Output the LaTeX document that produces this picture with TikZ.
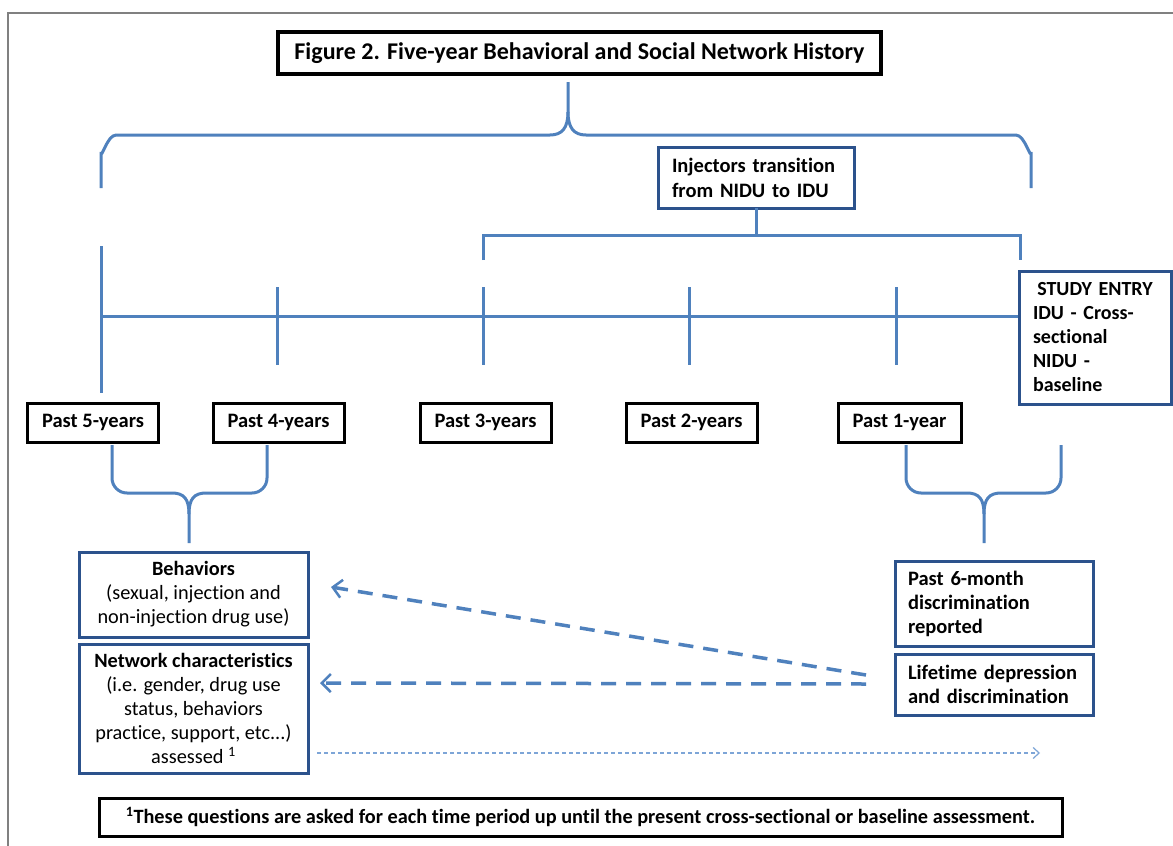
\documentclass[tikz,border=0pt]{standalone}
\usepackage{fontspec}
\setmainfont[Ligatures={NoCommon,NoRare}]{Carlito}
\usetikzlibrary{arrows.meta}
\definecolor{lineblue}{RGB}{79,129,189}
\definecolor{boxblue}{RGB}{44,82,140}
\definecolor{dotblue}{RGB}{125,165,215}
\definecolor{framegray}{RGB}{128,128,128}
\begin{document}
\begin{tikzpicture}[x=1pt,y=-1pt,
  blkbox/.style={draw=black,line width=3pt,fill=white,inner sep=0pt,align=center,font=\fontsize{20.5}{24}\selectfont\bfseries},
  bluebox/.style={draw=boxblue,line width=3pt,fill=white,inner sep=0pt,font=\fontsize{20.3}{24}\selectfont},
  bline/.style={draw=lineblue,line width=3pt},
  dasharrow/.style={draw=lineblue,line width=3.5pt,dash pattern=on 15pt off 10pt,-{Straight Barb[length=9pt,width=18pt,line width=2.5pt]}},
  dotarrow/.style={draw=dotblue,line width=1.3pt,dash pattern=on 4pt off 3pt,-{Straight Barb[length=6pt,width=11pt,line width=1.2pt]}}
]
\useasboundingbox (0,0) rectangle (1173,846);
\fill[white] (0,0) rectangle (1173,846);
% outer frame
\draw[framegray,line width=1.2pt] (8,846) -- (8,13) -- (1173,13);

% title
\node[blkbox,line width=3.5pt,minimum width=603pt,minimum height=42pt,font=\fontsize{24}{28}\selectfont\bfseries] (title) at (579.5,53) {Figure 2. Five-year Behavioral and Social Network History};

% top brace
\draw[bline] (101,188) -- (101,152) to[out=-90,in=180] (116,135) -- (550,135)
  .. controls (562,135) and (568,128) .. (568,112) -- (568,82);
\draw[bline] (568,112) .. controls (568,128) and (574,135) .. (586,135) -- (1016,135)
  to[out=0,in=-90] (1031,152) -- (1031,188);

% injectors box
\node[bluebox,minimum width=196pt,minimum height=61pt,text width=168pt,align=left,font=\fontsize{20.5}{25}\selectfont\bfseries] (inj) at (756,177.5) {Injectors transition\\from NIDU to IDU};

% bracket under injectors
\coordinate (brL) at (483,235);
\coordinate (brR) at (1020,235);
\draw[bline] (inj.south |- 0,208) -- (inj.south |- brL);
\draw[bline] ([yshift=-25pt]brL) -- (brL) -- (brR) -- ([yshift=-25pt]brR);

% study entry box
\node[bluebox,minimum width=152pt,minimum height=133pt,text width=124pt,align=left,font=\fontsize{20}{24}\selectfont\bfseries] (study) at (1095,337.5) {\makebox[124pt][c]{STUDY ENTRY}\\IDU - Cross-\\sectional\\NIDU -\\baseline};

% timeline
\coordinate (t0) at (101,316);
\draw[bline] (t0) -- (study.west |- t0);
\draw[bline] (101,246) -- (101,393);
\foreach \x in {277,483,689,896}{\draw[bline] (\x,287) -- (\x,365);}

% period boxes
\node[blkbox,minimum width=131pt,minimum height=39pt] (p5) at (93,422.5) {Past 5-years};
\node[blkbox,minimum width=131pt,minimum height=39pt] (p4) at (278.5,422.5) {Past 4-years};
\node[blkbox,minimum width=131pt,minimum height=39pt] (p3) at (485.5,422.5) {Past 3-years};
\node[blkbox,minimum width=131pt,minimum height=39pt] (p2) at (691.5,422.5) {Past 2-years};
\node[blkbox,minimum width=123pt,minimum height=39pt] (p1) at (899.5,422.5) {Past 1-year};

% lower left brace
\draw[bline] (112,445) -- (112,478) to[out=-90,in=180] (127,493) -- (172,493)
  .. controls (184,493) and (189,499) .. (189,514) -- (189,543);
\draw[bline] (267,445) -- (267,478) to[out=-90,in=0] (252,493) -- (206,493)
  .. controls (194,493) and (189,499) .. (189,514);
% lower right brace
\draw[bline] (906,445) -- (906,478) to[out=-90,in=180] (921,493) -- (967,493)
  .. controls (979,493) and (984,499) .. (984,514) -- (984,543);
\draw[bline] (1061,445) -- (1061,478) to[out=-90,in=0] (1046,493) -- (1001,493)
  .. controls (989,493) and (984,499) .. (984,514);

% lower boxes
\node[bluebox,minimum width=229pt,minimum height=85pt,align=center] (beh) at (193.5,594.5) {\textbf{Behaviors}\\(sexual, injection and\\non-injection drug use)};
\node[bluebox,minimum width=229pt,minimum height=129pt,align=center] (net) at (193.5,708.5) {\textbf{Network characteristics}\\(i.e. gender, drug use\\status, behaviors\\practice, support, etc...)\\assessed \textsuperscript{1}};
\node[bluebox,minimum width=198pt,minimum height=85pt,text width=172pt,align=left,font=\fontsize{20.5}{24}\selectfont\bfseries] (six) at (994,603.5) {Past 6-month\\discrimination\\reported};
\node[bluebox,minimum width=198pt,minimum height=61pt,text width=172pt,align=left,font=\fontsize{20.5}{24}\selectfont\bfseries] (life) at (994,684.5) {Lifetime depression\\and discrimination};

% dashed arrows
\coordinate (a1s) at (866,675);
\coordinate (a1e) at (331,587);
\coordinate (a2s) at (866,684);
\coordinate (a2e) at (320,683);
\draw[dasharrow] (a1s) -- (a1e);
\draw[dasharrow] (a2s) -- (a2e);
% dotted arrow
\coordinate (d1s) at (317,753);
\coordinate (d1e) at (1040,753);
\draw[dotarrow] (d1s) -- (d1e);

% footnote
\node[blkbox,minimum width=963pt,minimum height=38pt,font=\fontsize{20.3}{22}\selectfont\bfseries] (foot) at (580.5,817) {\textsuperscript{1}These questions are asked for each time period up until the present cross-sectional or baseline assessment.};
\end{tikzpicture}
\end{document}
